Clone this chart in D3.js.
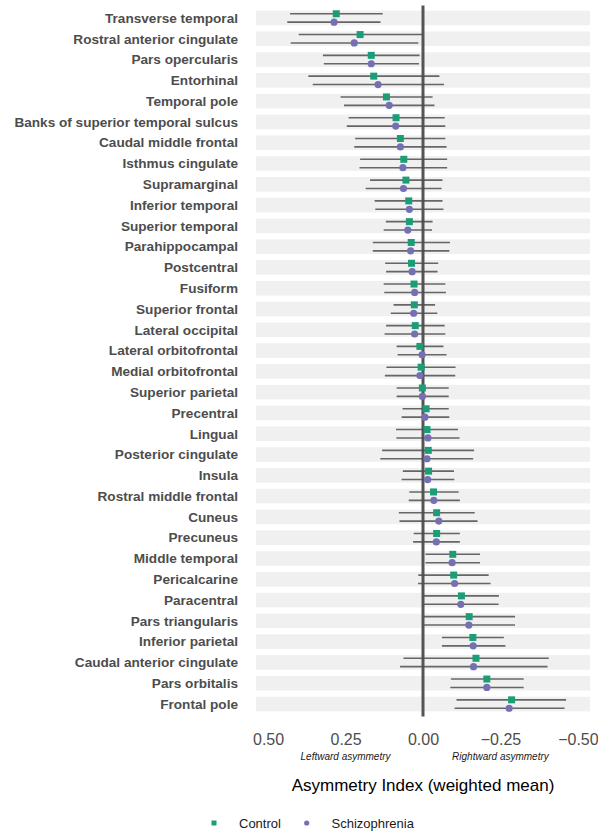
<!DOCTYPE html>
<html>
<head>
<meta charset="utf-8">
<script src="https://cdn.jsdelivr.net/npm/d3@7"></script>
<style>
  html, body { margin: 0; padding: 0; background: #ffffff; }
  svg { display: block; font-family: "Liberation Sans", Arial, Helvetica, sans-serif; }
</style>
</head>
<body>
<svg id="chart" width="598" height="832"></svg>
<script>
// Cortical regions, top to bottom
const regions = [
  "Transverse temporal", "Rostral anterior cingulate", "Pars opercularis", "Entorhinal",
  "Temporal pole", "Banks of superior temporal sulcus", "Caudal middle frontal", "Isthmus cingulate",
  "Supramarginal", "Inferior temporal", "Superior temporal", "Parahippocampal",
  "Postcentral", "Fusiform", "Superior frontal", "Lateral occipital",
  "Lateral orbitofrontal", "Medial orbitofrontal", "Superior parietal", "Precentral",
  "Lingual", "Posterior cingulate", "Insula", "Rostral middle frontal",
  "Cuneus", "Precuneus", "Middle temporal", "Pericalcarine",
  "Paracentral", "Pars triangularis", "Inferior parietal", "Caudal anterior cingulate",
  "Pars orbitalis", "Frontal pole"
];

// Control group: weighted mean asymmetry index and 95% CI bounds
const controlMean = [0.280, 0.203, 0.167, 0.159, 0.118, 0.087, 0.073, 0.062,
  0.055, 0.046, 0.044, 0.038, 0.037, 0.029, 0.028, 0.025,
  0.010, 0.006, 0.002, -0.010, -0.013, -0.017, -0.018, -0.034,
  -0.044, -0.044, -0.096, -0.099, -0.124, -0.149, -0.161, -0.171,
  -0.206, -0.286];
const controlLow = [0.429, 0.401, 0.323, 0.370, 0.266, 0.240, 0.219, 0.203,
  0.171, 0.156, 0.120, 0.162, 0.122, 0.127, 0.095, 0.119,
  0.085, 0.118, 0.085, 0.066, 0.087, 0.132, 0.065, 0.044,
  0.078, 0.030, -0.008, 0.015, -0.001, -0.003, -0.061, 0.063,
  -0.090, -0.108];
const controlHigh = [0.130, 0.002, 0.011, -0.053, -0.031, -0.070, -0.072, -0.078,
  -0.063, -0.063, -0.031, -0.087, -0.049, -0.072, -0.039, -0.070,
  -0.066, -0.105, -0.083, -0.083, -0.113, -0.165, -0.100, -0.115,
  -0.167, -0.119, -0.184, -0.212, -0.245, -0.297, -0.261, -0.406,
  -0.325, -0.462];

// Schizophrenia group: weighted mean asymmetry index and 95% CI bounds
const schizMean = [0.287, 0.222, 0.167, 0.145, 0.109, 0.088, 0.073, 0.065,
  0.063, 0.044, 0.049, 0.040, 0.035, 0.027, 0.030, 0.027,
  0.003, 0.010, 0.002, -0.006, -0.016, -0.013, -0.015, -0.035,
  -0.051, -0.043, -0.094, -0.102, -0.122, -0.148, -0.162, -0.163,
  -0.206, -0.278];
const schizLow = [0.438, 0.427, 0.320, 0.356, 0.255, 0.246, 0.222, 0.205,
  0.185, 0.154, 0.127, 0.162, 0.119, 0.125, 0.104, 0.124,
  0.082, 0.123, 0.085, 0.069, 0.086, 0.138, 0.069, 0.046,
  0.076, 0.032, -0.008, 0.016, -0.001, -0.003, -0.061, 0.074,
  -0.088, -0.102];
const schizHigh = [0.137, 0.015, 0.013, -0.068, -0.037, -0.072, -0.076, -0.078,
  -0.060, -0.066, -0.029, -0.085, -0.047, -0.074, -0.046, -0.072,
  -0.076, -0.104, -0.083, -0.085, -0.118, -0.162, -0.101, -0.119,
  -0.176, -0.119, -0.184, -0.218, -0.244, -0.297, -0.266, -0.402,
  -0.325, -0.457];

const xTicks = [0.5, 0.25, 0, -0.25, -0.5];
const sideLabels = [
  { value: 0.25, text: "Leftward asymmetry" },
  { value: -0.25, text: "Rightward asymmetry" }
];
const groups = [
  { name: "Control", color: "#1b9e77", shape: "square", mean: controlMean, low: controlLow, high: controlHigh, offset: -4.2 },
  { name: "Schizophrenia", color: "#7570b3", shape: "circle", mean: schizMean, low: schizLow, high: schizHigh, offset: 4.2 }
];

const svg = d3.select("#chart");
const panel = { left: 256, right: 590, top: 5.5, bottom: 716.5 };

const x = d3.scaleLinear().domain([0.539, -0.539]).range([panel.left, panel.right]);
const y = d3.scalePoint().domain(regions).range([panel.top, panel.bottom]).padding(0.6);

// Row stripes
svg.append("g").selectAll("rect")
  .data(regions)
  .join("rect")
  .attr("x", panel.left)
  .attr("width", panel.right - panel.left)
  .attr("y", d => y(d) - 7.3)
  .attr("height", 14.6)
  .attr("fill", "#f0f0f0");

// Region labels
svg.append("g").selectAll("text")
  .data(regions)
  .join("text")
  .attr("x", 238)
  .attr("y", d => y(d))
  .attr("dy", "0.35em")
  .attr("text-anchor", "end")
  .attr("font-size", 13.6)
  .attr("font-weight", "bold")
  .attr("fill", "#4d4d4d")
  .text(d => d);

// Reference line at zero
svg.append("line")
  .attr("x1", x(0)).attr("x2", x(0))
  .attr("y1", panel.top).attr("y2", panel.bottom)
  .attr("stroke", "#555555")
  .attr("stroke-width", 3);

// Confidence intervals
groups.forEach(g => {
  svg.append("g").selectAll("line")
    .data(regions)
    .join("line")
    .attr("x1", (d, i) => x(g.low[i]))
    .attr("x2", (d, i) => x(g.high[i]))
    .attr("y1", d => y(d) + g.offset)
    .attr("y2", d => y(d) + g.offset)
    .attr("stroke", "#4d4d4d")
    .attr("stroke-opacity", 0.85)
    .attr("stroke-width", 1.6);
});

// Weighted means
groups.forEach(g => {
  const layer = svg.append("g");
  if (g.shape === "square") {
    layer.selectAll("rect")
      .data(regions)
      .join("rect")
      .attr("x", (d, i) => x(g.mean[i]) - 3.5)
      .attr("y", d => y(d) + g.offset - 3.5)
      .attr("width", 7).attr("height", 7)
      .attr("fill", g.color);
  } else {
    layer.selectAll("circle")
      .data(regions)
      .join("circle")
      .attr("cx", (d, i) => x(g.mean[i]))
      .attr("cy", d => y(d) + g.offset)
      .attr("r", 3.6)
      .attr("fill", g.color);
  }
});

// Bottom axis (tick labels only)
const axis = svg.append("g")
  .attr("transform", `translate(0,${panel.bottom})`)
  .call(d3.axisBottom(x).tickValues(xTicks).tickSize(0).tickPadding(17)
    .tickFormat(d => d3.format(".2f")(d).replace("-", "\u2212")));
axis.select(".domain").remove();
axis.selectAll("text")
  .attr("font-size", 16)
  .attr("fill", "#4d4d4d")
  .attr("font-family", "Liberation Sans, Arial, sans-serif");

// Direction annotations
svg.append("g").selectAll("text")
  .data(sideLabels)
  .join("text")
  .attr("x", d => x(d.value))
  .attr("y", 760)
  .attr("text-anchor", "middle")
  .attr("font-size", 10)
  .attr("font-style", "italic")
  .attr("fill", "#1a1a1a")
  .text(d => d.text);

// Axis title
svg.append("text")
  .attr("x", x(0))
  .attr("y", 791)
  .attr("text-anchor", "middle")
  .attr("font-size", 17)
  .attr("fill", "#000")
  .text("Asymmetry Index (weighted mean)");

// Legend
const legend = svg.append("g").attr("transform", "translate(0,823)");
legend.append("rect").attr("x", 211.5).attr("y", -2.5).attr("width", 5).attr("height", 5).attr("fill", groups[0].color);
legend.append("text").attr("x", 239).attr("y", 0).attr("dy", "0.35em").attr("font-size", 13).attr("fill", "#1a1a1a").text(groups[0].name);
legend.append("circle").attr("cx", 306.7).attr("cy", 0).attr("r", 2.6).attr("fill", groups[1].color);
legend.append("text").attr("x", 331.5).attr("y", 0).attr("dy", "0.35em").attr("font-size", 13).attr("fill", "#1a1a1a").text(groups[1].name);
</script>
</body>
</html>
